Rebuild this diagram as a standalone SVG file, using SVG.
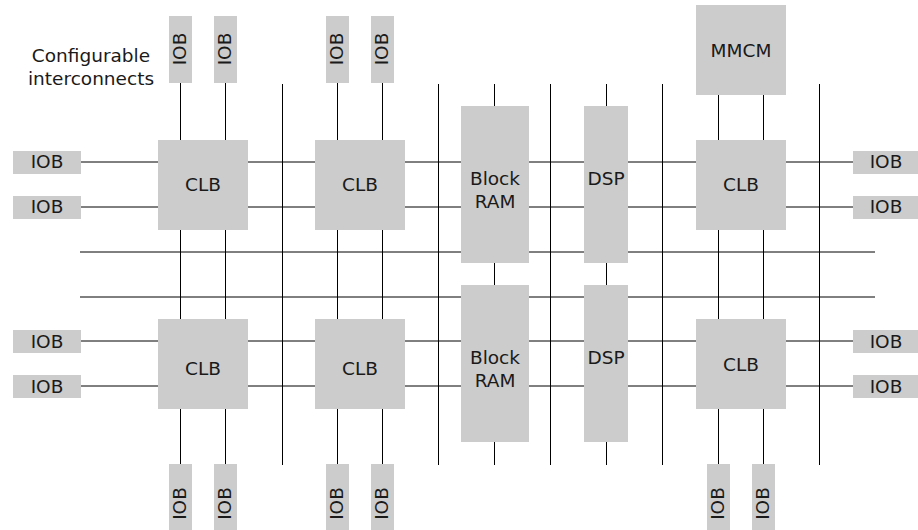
<svg xmlns="http://www.w3.org/2000/svg" width="918" height="530" viewBox="0 0 918 530">
<style>
.b{fill:#cccccc}
.t{font-family:"DejaVu Sans",sans-serif;font-size:18.5px;fill:#1a1a1a;text-anchor:middle}
.w{stroke:#000;stroke-width:1;fill:none}
</style>
<rect width="918" height="530" fill="#fff"/>
<g id="connectors" class="w">
<path d="M282.5 84V465M438.5 84V465M550.5 84V465M662.5 84V465M819.5 84V465"/>
<path d="M180.5 83V464M225.5 83V464M337.5 83V464M382.5 83V464M718.5 95V464M763.5 95V464M494.5 84V465M606.5 84V465"/>
<path d="M81 162H853M81 207H853M81 341H853M81 386H853"/>
<path d="M80 252H875M80 297H875"/>
</g>
<text class="t" x="91" y="62">Configurable</text>
<text class="t" x="91" y="85">interconnects</text>
<g id="iob-t1"><rect class="b" x="169" y="16" width="23" height="67"/><text class="t" transform="translate(186,49) rotate(-90)">IOB</text></g>
<g id="iob-t2"><rect class="b" x="214" y="16" width="23" height="67"/><text class="t" transform="translate(231,49) rotate(-90)">IOB</text></g>
<g id="iob-t3"><rect class="b" x="326" y="16" width="23" height="67"/><text class="t" transform="translate(343,49) rotate(-90)">IOB</text></g>
<g id="iob-t4"><rect class="b" x="371" y="16" width="23" height="67"/><text class="t" transform="translate(388,49) rotate(-90)">IOB</text></g>
<g id="iob-b1"><rect class="b" x="169" y="464" width="23" height="67"/><text class="t" transform="translate(186,503.5) rotate(-90)">IOB</text></g>
<g id="iob-b2"><rect class="b" x="214" y="464" width="23" height="67"/><text class="t" transform="translate(231,503.5) rotate(-90)">IOB</text></g>
<g id="iob-b3"><rect class="b" x="326" y="464" width="23" height="67"/><text class="t" transform="translate(343,503.5) rotate(-90)">IOB</text></g>
<g id="iob-b4"><rect class="b" x="371" y="464" width="23" height="67"/><text class="t" transform="translate(388,503.5) rotate(-90)">IOB</text></g>
<g id="iob-b5"><rect class="b" x="707" y="464" width="23" height="67"/><text class="t" transform="translate(724,503.5) rotate(-90)">IOB</text></g>
<g id="iob-b6"><rect class="b" x="752" y="464" width="23" height="67"/><text class="t" transform="translate(769,503.5) rotate(-90)">IOB</text></g>
<g id="iob-l1"><rect class="b" x="13" y="151" width="68" height="23"/><text class="t" x="47" y="168">IOB</text></g>
<g id="iob-l2"><rect class="b" x="13" y="196" width="68" height="23"/><text class="t" x="47" y="213">IOB</text></g>
<g id="iob-l3"><rect class="b" x="13" y="330" width="68" height="23"/><text class="t" x="47" y="347.5">IOB</text></g>
<g id="iob-l4"><rect class="b" x="13" y="375" width="68" height="23"/><text class="t" x="47" y="392.5">IOB</text></g>
<g id="iob-r1"><rect class="b" x="853" y="151" width="68" height="23"/><text class="t" x="886" y="168">IOB</text></g>
<g id="iob-r2"><rect class="b" x="853" y="196" width="68" height="23"/><text class="t" x="886" y="213">IOB</text></g>
<g id="iob-r3"><rect class="b" x="853" y="330" width="68" height="23"/><text class="t" x="886" y="347.5">IOB</text></g>
<g id="iob-r4"><rect class="b" x="853" y="375" width="68" height="23"/><text class="t" x="886" y="392.5">IOB</text></g>
<g id="clb1"><rect class="b" x="158" y="140" width="90" height="90"/><text class="t" x="203" y="190.7">CLB</text></g>
<g id="clb2"><rect class="b" x="315" y="140" width="90" height="90"/><text class="t" x="360" y="190.7">CLB</text></g>
<g id="clb3"><rect class="b" x="696" y="140" width="90" height="90"/><text class="t" x="741" y="190.7">CLB</text></g>
<g id="clb4"><rect class="b" x="158" y="319" width="90" height="90"/><text class="t" x="203" y="375">CLB</text></g>
<g id="clb5"><rect class="b" x="315" y="319" width="90" height="90"/><text class="t" x="360" y="375">CLB</text></g>
<g id="clb6"><rect class="b" x="696" y="319" width="90" height="90"/><text class="t" x="741" y="370.7">CLB</text></g>
<g id="bram1"><rect class="b" x="461" y="106" width="68" height="157"/><text class="t" x="495" y="185">Block</text><text class="t" x="495" y="208">RAM</text></g>
<g id="bram2"><rect class="b" x="461" y="285" width="68" height="157"/><text class="t" x="495" y="364">Block</text><text class="t" x="495" y="387">RAM</text></g>
<g id="dsp1"><rect class="b" x="584" y="106" width="44" height="157"/><text class="t" x="606" y="185">DSP</text></g>
<g id="dsp2"><rect class="b" x="584" y="285" width="44" height="157"/><text class="t" x="606" y="364">DSP</text></g>
<g id="mmcm"><rect class="b" x="696" y="5" width="90" height="90"/><text class="t" x="741" y="57.3">MMCM</text></g>
</svg>
